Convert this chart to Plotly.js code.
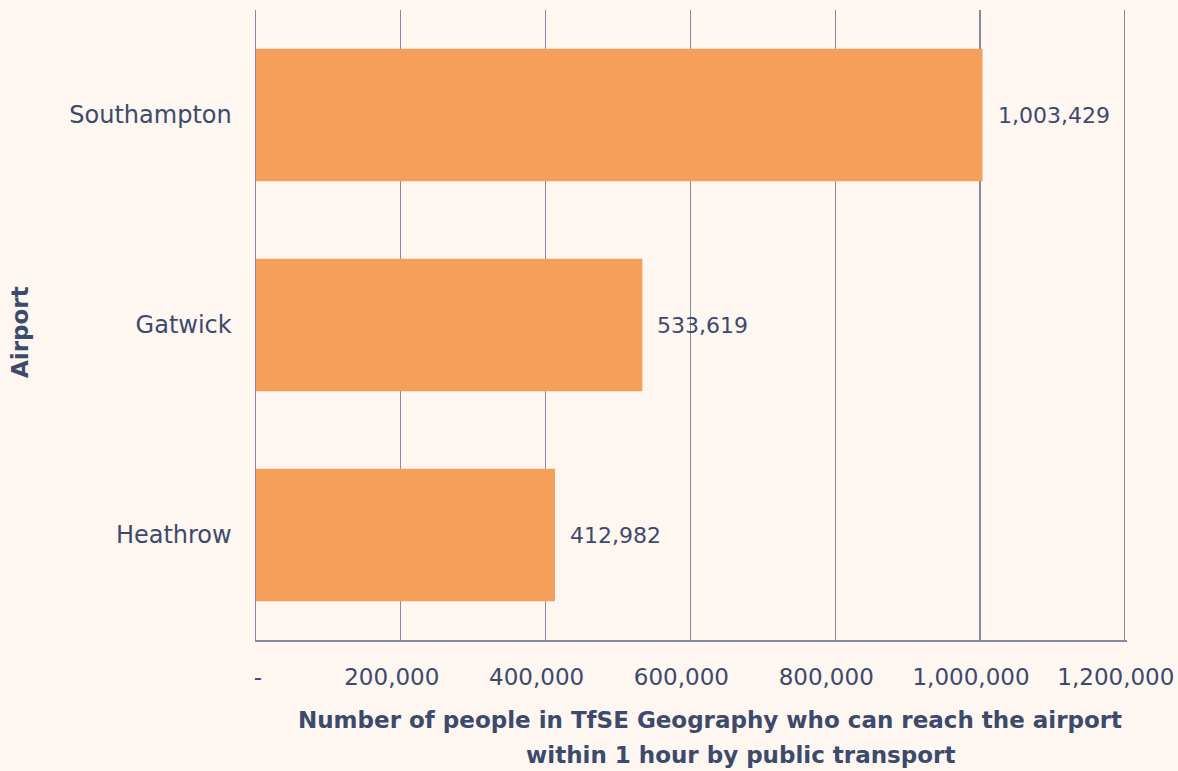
<!DOCTYPE html>
<html>
<head>
<meta charset="utf-8">
<script src="https://cdn.plot.ly/plotly-3.0.1.min.js"></script>
<style>html,body{margin:0;padding:0;background:#fef6f0;}#chart{width:1178px;height:771px;}</style>
</head>
<body>
<div id="chart"></div>
<script>
const airports = ['Heathrow', 'Gatwick', 'Southampton'];
const people = [412982, 533619, 1003429];
const labels = ['412,982', '533,619', '1,003,429'];
const tickValues = [0, 200000, 400000, 600000, 800000, 1000000, 1200000];
const tickLabels = ['\u00a0\u00a0\u00a0-', '200,000', '400,000', '600,000', '800,000', '1,000,000', '1,200,000'];
const xTitleLines = ['Number of people in TfSE Geography who can reach the airport', 'within 1 hour by public transport'];
const yTitle = 'Airport';

const FONT = 'DejaVu Sans, sans-serif';
const TXT = '#3c4a6b';
const GRID = '#858aa0';

const annotations = airports.map((a, i) => ({
  x: people[i], y: a, xref: 'x', yref: 'y', text: labels[i],
  showarrow: false, xanchor: 'left', yanchor: 'middle', xshift: 13,
  font: {family: FONT, size: 22, color: TXT}
}));
annotations.push({
  xref: 'paper', yref: 'paper', x: 0.521, y: 0, yshift: -80, text: xTitleLines[0],
  showarrow: false, xanchor: 'center', yanchor: 'middle',
  font: {family: FONT, size: 23, color: TXT, weight: 'bold'}
});
annotations.push({
  xref: 'paper', yref: 'paper', x: 0.556, y: 0, yshift: -115, text: xTitleLines[1],
  showarrow: false, xanchor: 'center', yanchor: 'middle',
  font: {family: FONT, size: 23, color: TXT, weight: 'bold'}
});
annotations.push({
  xref: 'paper', yref: 'paper', x: 0, xshift: -236, y: 0.489, text: yTitle, textangle: -90,
  showarrow: false, xanchor: 'center', yanchor: 'middle',
  font: {family: FONT, size: 23, color: TXT, weight: 'bold'}
});

const trace = {
  type: 'bar', orientation: 'h', x: people, y: airports,
  marker: {color: '#f5a05a'}, width: 0.63, hoverinfo: 'none'
};

const layout = {
  width: 1178, height: 771,
  paper_bgcolor: '#fef6f0', plot_bgcolor: '#fef6f0',
  margin: {l: 256, r: 51, t: 10, b: 131},
  showlegend: false,
  font: {family: FONT, color: TXT},
  xaxis: {
    range: [0, 1203000], tickvals: tickValues, ticktext: tickLabels,
    showgrid: true, gridcolor: GRID, gridwidth: 1.3,
    zeroline: false, showline: true, linecolor: GRID, linewidth: 1.5,
    ticks: 'outside', ticklen: 16, tickcolor: 'rgba(0,0,0,0)',
    ticklabeloverflow: 'allow', ticklabelshift: -9,
    tickfont: {family: FONT, size: 23, color: TXT}, fixedrange: true
  },
  yaxis: {
    categoryorder: 'array', categoryarray: airports, range: [-0.5, 2.5],
    showgrid: false, zeroline: false, showline: true, linecolor: GRID, linewidth: 1.5,
    ticks: 'outside', ticklen: 18, tickcolor: 'rgba(0,0,0,0)',
    tickfont: {family: FONT, size: 24, color: TXT}, fixedrange: true
  },
  annotations: annotations
};

Plotly.newPlot('chart', [trace], layout, {displayModeBar: false, staticPlot: true});
</script>
</body>
</html>
